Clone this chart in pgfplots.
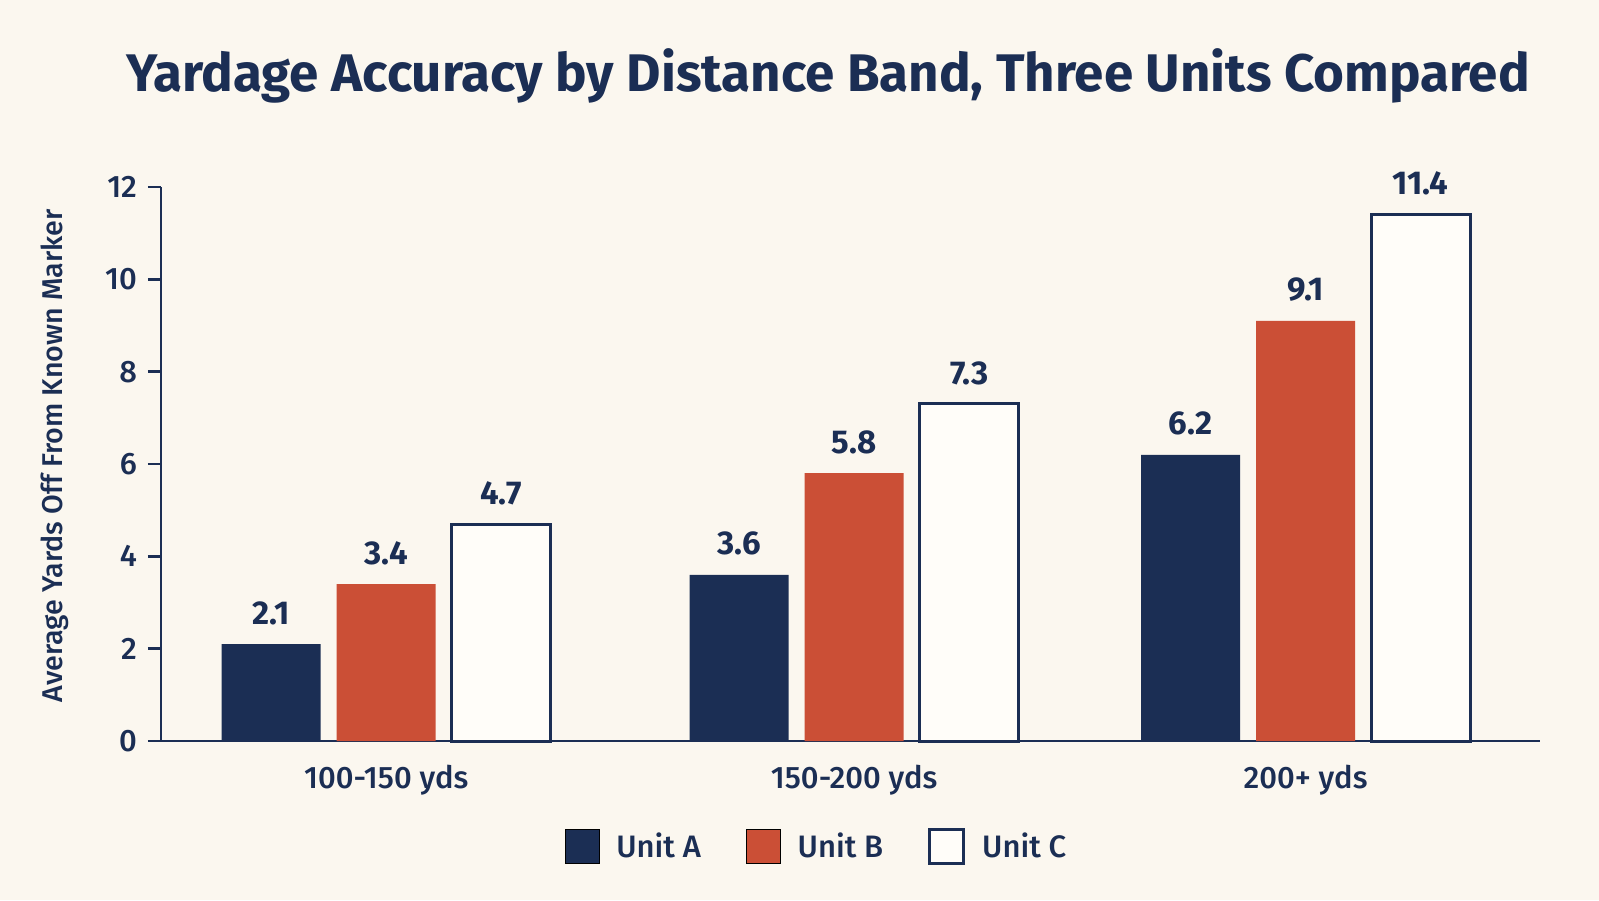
\documentclass[border=0pt]{standalone}
\usepackage{fontspec}
\setmainfont{Fira Sans}
\newfontfamily\medfont{Fira Sans Medium}
\usepackage{pgfplots}
\usepackage{pgfplotstable}
\pgfplotsset{compat=1.18}

\definecolor{navy}{HTML}{1B2E54}
\definecolor{brick}{HTML}{CB4F36}
\definecolor{bg}{HTML}{FBF7EF}
\definecolor{barwhite}{HTML}{FFFDF9}

% average yards off, per distance band (x = band position)
\pgfplotstableread{
x A B C
0 2.1 3.4 4.7
1.018 3.6 5.8 7.3
2 6.2 9.1 11.4
}\yardage

\begin{document}
\begin{tikzpicture}
\fill[bg] (0,0) rectangle (799.5pt,450pt);
\node[text=navy, font=\fontsize{26.45}{30}\selectfont\bfseries]
    at (414pt,412.25pt) {Yardage Accuracy by Distance Band, Three Units Compared};
\node[text=navy, rotate=90, font=\medfont\fontsize{14.3}{16}\selectfont]
    at (27.5pt,222pt) {Average Yards Off From Known Marker};
\begin{axis}[
    at={(80.5pt,79.5pt)}, anchor=south west,
    scale only axis, width=689.5pt, height=277pt,
    xmin=-0.49, xmax=2.51, ymin=0, ymax=12,
    clip=false,
    axis x line*=bottom, axis y line*=left,
    axis line style={navy, line width=1.2pt, -},
    /pgf/number format/assume math mode=true,
    ytick={0,2,...,12},
    tick align=outside, major tick length=6.5pt,
    ytick style={navy, line width=1.2pt},
    yticklabel style={text=navy, font=\medfont\fontsize{15.5}{18}\selectfont, xshift=-2pt},
    xtick={0,1.018,2},
    xticklabels={100-150 yds,150-200 yds,200+ yds},
    xtick style={draw=none},
    xticklabel style={text=navy, font=\medfont\fontsize{15.5}{18}\selectfont, anchor=center, yshift=-13pt},
    bar width=49.5pt,
    nodes near coords={\pgfmathprintnumber[fixed,fixed zerofill,precision=1]{\pgfplotspointmeta}},
    every node near coord/.append style={text=navy, font=\fontsize{16.5}{19}\selectfont\bfseries, anchor=center, yshift=15.5pt},
    legend columns=3,
    legend style={at={(0.476,-0.191)}, anchor=center, draw=none, fill=none,
        text=navy, font=\medfont\fontsize{15.5}{18}\selectfont,
        /tikz/every odd column/.append style={column sep=6.5pt},
        /tikz/every even column/.append style={column sep=20.5pt}},
    legend image code/.code={\draw[#1,/tikz/.cd,yshift=0pt] (0pt,-8.5pt) rectangle (17pt,8.5pt);},
]
\addplot[ybar, bar shift=-57.5pt, fill=navy, draw=none,
    every node near coord/.append style={xshift=-57.5pt}] table[x=x,y=A]{\yardage};
\addplot[ybar, bar shift=0pt, fill=brick, draw=none] table[x=x,y=B]{\yardage};
\addplot[ybar, bar shift=57.5pt, fill=barwhite, draw=navy, line width=1.5pt,
    every node near coord/.append style={xshift=57.5pt}] table[x=x,y=C]{\yardage};
\legend{Unit A,Unit B,Unit C}
\end{axis}
\end{tikzpicture}
\end{document}
